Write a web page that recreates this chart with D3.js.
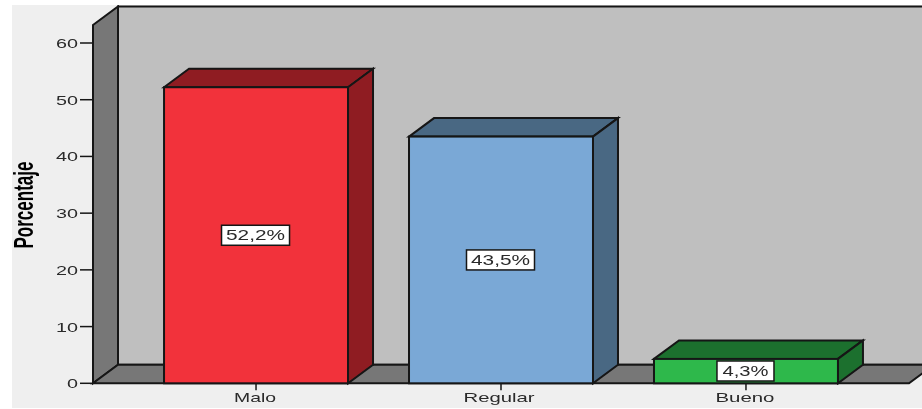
<!DOCTYPE html>
<html><head><meta charset="utf-8">
<script src="https://cdn.jsdelivr.net/npm/d3@7"></script>
<style>html,body{margin:0;padding:0;background:#fff}svg{display:block}
text{font-family:"Liberation Sans",Arial,sans-serif;fill:#2a2a2a}</style></head>
<body><div id="c"></div>
<script>
const categories = ["Malo","Regular","Bueno"];
const values = [52.2,43.5,4.3];
const valueLabels = ["52,2%","43,5%","4,3%"];
const yTicks = [0,10,20,30,40,50,60];
const frontColors = ["#f2333a","#7aa8d6","#2eb84c"];
const sideColors = ["#8f1f23","#4a6783","#1c6f2e"];
const axisTitle = "Porcentaje";

const W=922,H=409, dx=25, dy=18.5, x0=93, x1=909;
const y=d3.scaleLinear().domain([0,60]).range([383.3,43]);
const x=d3.scaleBand().domain(categories).range([x0,x1]).paddingInner(.249).paddingOuter(.29);
const topY=25;
const stroke="#161616";
const svg=d3.select("#c").append("svg").attr("width",W).attr("height",H);
svg.append("defs").append("filter").attr("id","soft").attr("x",0).attr("y",0).attr("width","100%").attr("height","100%")
  .append("feGaussianBlur").attr("stdDeviation",.45);
svg.append("rect").attr("width",W).attr("height",H).attr("fill","#fff");
const g=svg.append("g").attr("filter","url(#soft)");
g.append("rect").attr("x",12).attr("y",5).attr("width",W-12+5).attr("height",H-6).attr("fill","#efefef");
const poly=(pts,fill)=>g.append("polygon").attr("points",pts.map(p=>p.join(",")).join(" "))
  .attr("fill",fill).attr("stroke",stroke).attr("stroke-width",2).attr("stroke-linejoin","miter");
// walls and floor
const b=y(0);
poly([[x0+dx,topY-dy],[W+5,topY-dy],[W+5,b-dy],[x0+dx,b-dy]],"#bfbfbf");
poly([[x0,topY],[x0+dx,topY-dy],[x0+dx,b-dy],[x0,b]],"#777777");
poly([[x0,b],[x0+dx,b-dy],[x1+dx,b-dy],[x1,b]],"#777777");
// y axis
yTicks.forEach(t=>{
  g.append("line").attr("x1",x0-13).attr("x2",x0).attr("y1",y(t)).attr("y2",y(t)).attr("stroke",stroke).attr("stroke-width",1.5);
  g.append("text").attr("x",x0-15).attr("y",y(t)+5).attr("text-anchor","end").attr("font-size",13.5)
    .attr("textLength",t===0?11:22).attr("lengthAdjust","spacingAndGlyphs").text(t);
});
// bars
const labelShift=[-1,-2,-1];
categories.forEach((c,i)=>{
  const l=x(c), r=l+x.bandwidth(), t=y(values[i]);
  poly([[l,t],[l+dx,t-dy],[r+dx,t-dy],[r,t]],sideColors[i]);
  poly([[r,t],[r+dx,t-dy],[r+dx,b-dy],[r,b]],sideColors[i]);
  g.append("rect").attr("x",l).attr("y",t).attr("width",x.bandwidth()).attr("height",b-t)
    .attr("fill",frontColors[i]).attr("stroke",stroke).attr("stroke-width",2);
  const cx=l+x.bandwidth()/2, cy=(t+b)/2;
  const bw=i===2?57:68, bh=20;
  const ly=i===2?371:cy;
  g.append("rect").attr("x",cx-bw/2-.5).attr("y",ly-bh/2).attr("width",bw).attr("height",bh)
    .attr("fill","#fff").attr("stroke",stroke).attr("stroke-width",1.5);
  g.append("text").attr("x",cx-.5).attr("y",ly+5).attr("text-anchor","middle").attr("font-size",14)
    .attr("textLength",i===2?46:59).attr("lengthAdjust","spacingAndGlyphs").text(valueLabels[i]);
  g.append("line").attr("x1",cx).attr("x2",cx).attr("y1",b).attr("y2",b+7).attr("stroke",stroke).attr("stroke-width",1.5);
  g.append("text").attr("x",cx+labelShift[i]).attr("y",b+19).attr("text-anchor","middle").attr("font-size",13.5)
    .attr("textLength",[42,71,59][i]).attr("lengthAdjust","spacingAndGlyphs").text(c);
});
g.append("text").attr("transform","translate(33,205) rotate(-90)").attr("text-anchor","middle")
  .attr("font-size",27).attr("font-weight","bold").style("fill","#000")
  .attr("textLength",87).attr("lengthAdjust","spacingAndGlyphs").text(axisTitle);
</script></body></html>
